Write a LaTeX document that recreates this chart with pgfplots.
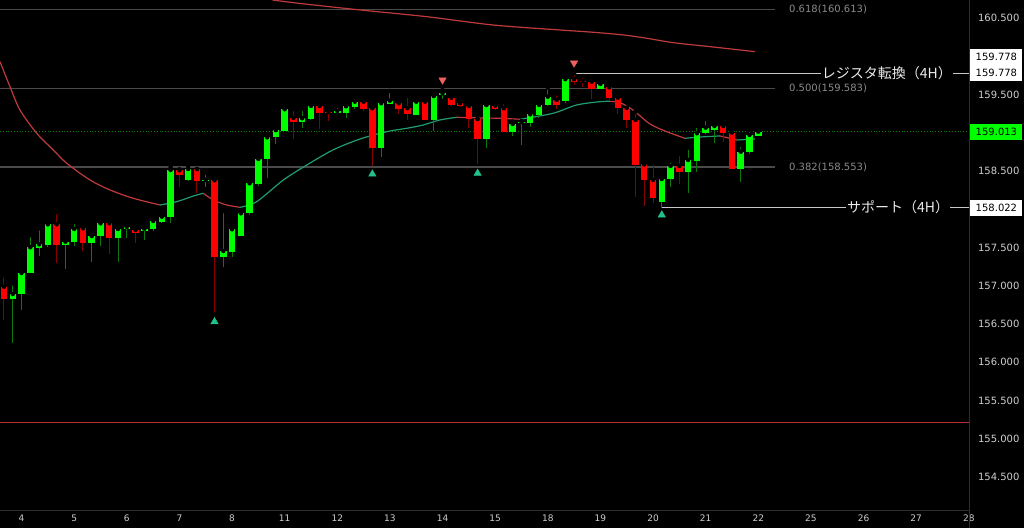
\documentclass[border=0pt]{standalone}
\usepackage{fontspec}
\setmainfont{DejaVu Sans}
\newfontfamily\jp{Noto Sans CJK JP}
\usepackage{pgfplots}
\usepackage{pgfplotstable}
\pgfplotsset{compat=1.18}
\definecolor{bull}{HTML}{00FF00}
\definecolor{bear}{HTML}{FF0000}
\definecolor{bullwick}{HTML}{0B7A0B}
\definecolor{bearwick}{HTML}{860000}
\definecolor{magreen}{HTML}{1E9E6E}
\definecolor{mared}{HTML}{C0393B}
\definecolor{fibgray}{HTML}{4A4A4A}
\definecolor{fibtext}{HTML}{8A8A8A}
\definecolor{ticktext}{HTML}{CFCFCF}
\definecolor{sep}{HTML}{2E2E2E}
\definecolor{uptri}{HTML}{22C08C}
\definecolor{dntri}{HTML}{F06060}
\definecolor{hline}{HTML}{B83232}
\definecolor{dotgreen}{HTML}{0A7A0A}
\definecolor{resline}{HTML}{C8C8C8}

\pgfplotstableread{
i o h l c
1 156.823 157.032 156.248 156.892
2 156.888 157.228 156.683 157.167
3 157.163 157.663 157.163 157.503
4 157.497 157.751 157.389 157.542
5 157.533 157.846 157.503 157.803
7 157.529 157.633 157.219 157.576
8 157.572 157.833 157.524 157.742
10 157.555 157.703 157.310 157.650
11 157.654 157.873 157.520 157.816
13 157.620 157.755 157.314 157.742
14 157.738 157.820 157.620 157.768
16 157.720 157.755 157.598 157.746
17 157.738 157.895 157.716 157.846
18 157.837 157.934 157.824 157.903
19 157.895 158.548 157.824 158.513
21 158.386 158.565 158.373 158.526
23 158.373 158.478 158.287 158.385
25 157.380 157.977 157.249 157.454
26 157.445 157.772 157.380 157.738
27 157.654 157.964 157.650 157.947
28 157.947 158.356 157.925 158.339
29 158.330 158.679 158.308 158.657
30 158.657 158.948 158.405 158.940
31 158.940 159.036 158.853 159.036
32 159.027 159.363 159.027 159.307
34 159.141 159.311 159.066 159.189
35 159.180 159.376 159.167 159.350
38 159.262 159.354 159.254 159.284
39 159.254 159.354 159.197 159.346
40 159.333 159.463 159.307 159.406
43 158.797 159.406 158.687 159.385
44 159.376 159.546 159.372 159.419
47 159.232 159.419 159.232 159.406
49 159.167 159.484 159.023 159.480
50 159.490 159.559 159.437 159.516
55 158.914 159.363 158.797 159.363
58 159.014 159.144 158.958 159.114
59 159.127 159.154 158.844 159.140
60 159.124 159.284 159.071 159.241
61 159.232 159.385 159.197 159.363
62 159.363 159.594 159.350 159.471
64 159.419 159.742 159.393 159.699
68 159.568 159.667 159.568 159.637
75 158.099 158.435 158.022 158.395
76 158.395 158.635 158.295 158.565
78 158.491 158.805 158.209 158.644
79 158.631 159.092 158.491 158.993
80 158.993 159.180 158.984 159.066
81 159.036 159.131 158.870 159.088
84 158.522 158.840 158.352 158.752
85 158.744 159.036 158.722 158.971
86 158.962 159.049 158.962 159.013
}\bulltab

\pgfplotstableread{
i o h l c
0 156.988 157.131 156.552 156.823
6 157.803 157.964 157.301 157.529
9 157.751 157.807 157.458 157.555
12 157.816 157.869 157.415 157.620
15 157.729 157.755 157.563 157.690
20 158.509 158.522 158.295 158.452
22 158.526 158.526 158.216 158.369
24 158.378 158.418 156.661 157.380
33 159.193 159.311 158.918 159.141
36 159.350 159.385 159.049 159.262
37 159.275 159.320 159.158 159.262
41 159.406 159.419 159.280 159.311
42 159.320 159.328 158.565 158.797
45 159.385 159.406 159.245 159.311
46 159.320 159.484 159.167 159.245
48 159.406 159.419 159.167 159.167
51 159.458 159.503 159.350 159.363
52 159.385 159.406 159.333 159.350
53 159.350 159.350 159.058 159.176
54 159.180 159.180 158.592 158.914
56 159.354 159.398 159.297 159.311
57 159.320 159.398 159.014 159.014
63 159.428 159.516 159.307 159.363
65 159.699 159.778 159.624 159.667
66 159.676 159.742 159.594 159.662
67 159.667 159.712 159.437 159.568
69 159.594 159.646 159.428 159.458
70 159.458 159.524 159.241 159.327
71 159.327 159.327 159.058 159.167
72 159.167 159.275 158.156 158.578
73 158.588 158.588 158.046 158.382
74 158.382 158.609 158.086 158.151
77 158.565 158.722 158.330 158.491
82 159.088 159.144 158.883 159.001
83 159.001 159.023 158.522 158.522
}\beartab

\begin{document}
\begin{tikzpicture}
\path[use as bounding box, fill=black] (0,0) rectangle (1024pt,528pt);
\begin{axis}[
  at={(0pt,18pt)}, anchor=south west,
  width=969pt, height=510pt, scale only axis,
  xmin=-0.456, xmax=110.03, ymin=154.069, ymax=160.735,
  clip=false,
  axis line style={draw=none},
  major tick style={draw=none},
  /pgf/number format/assume math mode=true,
  xtick={2,8,14,20,26,32,38,44,50,56,62,68,74,80,86,92,98,104,110},
  xticklabels={4,5,6,7,8,11,12,13,14,15,18,19,20,21,22,25,26,27,28},
  x tick label style={font=\fontsize{9}{10}\selectfont, text=ticktext, yshift=-1pt},
  ytick={154.5,155,155.5,156,156.5,157,157.5,158.5,159.5,160.5},
  yticklabel pos=right,
  y tick label style={anchor=west, xshift=5.5pt, font=\fontsize{10}{12}\selectfont, text=ticktext},
  yticklabel={\pgfmathprintnumber[fixed,fixed zerofill,precision=3]{\tick}},
]
% horizontal reference lines
\addplot[fibgray, line width=1.2pt] coordinates {(-0.456,160.613) (87.9,160.613)};
\addplot[fibgray, line width=1.2pt] coordinates {(-0.456,159.583) (87.9,159.583)};
\addplot[fibgray, line width=1.2pt] coordinates {(-0.456,158.553) (87.9,158.553)};
\addplot[hline, line width=1pt] coordinates {(-0.456,155.219) (110.03,155.219)};
\addplot[dotgreen, line width=0.8pt, dotted] coordinates {(-0.456,159.013) (110.03,159.013)};
\addplot[resline, line width=1pt] coordinates {(65,159.778) (110.03,159.778)};
\addplot[resline, line width=1pt] coordinates {(75,158.022) (110.03,158.022)};

% moving averages
\addplot[mared, line width=1.2pt, smooth] coordinates {(30.6,160.735) (33.75,160.690) (40.59,160.605) (48.2,160.517) (55.79,160.408) (63.4,160.343) (67.2,160.313) (70.62,160.278) (73.28,160.235) (76.32,160.177) (80.5,160.125) (85.63,160.060)};
\addplot[mared, line width=1.2pt, smooth] coordinates {(-0.456,159.929) (0.684,159.602) (1.824,159.297) (3.729,158.993) (5.62,158.775) (7.15,158.601) (9.81,158.382) (12.09,158.252) (14.74,158.143) (17.79,158.056)};
\addplot[magreen, line width=1.2pt, smooth] coordinates {(17.79,158.056) (19.69,158.099) (21.59,158.173) (22.73,158.209)};
\addplot[mared, line width=1.2pt, smooth] coordinates {(22.73,158.209) (23.87,158.121) (25.39,158.056) (26.91,158.025)};
\addplot[magreen, line width=1.2pt, smooth] coordinates {(26.91,158.025) (28.81,158.099) (31.85,158.382) (34.52,158.578) (37.51,158.775) (40.59,158.918) (43.64,159.014) (45.92,159.058) (47.78,159.101) (49.71,159.167) (51.62,159.202)};
\addplot[mared, line width=1.2pt, smooth] coordinates {(51.62,159.202) (54.28,159.193) (56.56,159.189) (58.84,159.176)};
\addplot[magreen, line width=1.2pt, smooth] coordinates {(58.84,159.176) (62.6,159.254) (65.3,159.363) (67.97,159.406) (69.1,159.41)};
\addplot[mared, line width=1.2pt, smooth] coordinates {(69.1,159.41) (70.24,159.393) (71.72,159.297) (73.66,159.114) (75.56,159.014) (77.65,158.927)};
\addplot[magreen, line width=1.2pt, smooth] coordinates {(77.65,158.927) (79.36,158.944) (81.64,158.958)};
\addplot[mared, line width=1.2pt, smooth] coordinates {(81.64,158.958) (83.55,158.905)};
\addplot[magreen, line width=1.2pt, smooth] coordinates {(83.55,158.905) (85.63,158.918)};

% wicks
\addplot[only marks, mark=none, error bars/.cd, y dir=minus, y explicit, error mark=none,
  error bar style={line width=1pt, draw=bullwick}]
  table[x=i, y=h, y error minus expr=\thisrow{h}-\thisrow{l}] {\bulltab};
\addplot[only marks, mark=none, error bars/.cd, y dir=minus, y explicit, error mark=none,
  error bar style={line width=1pt, draw=bearwick}]
  table[x=i, y=h, y error minus expr=\thisrow{h}-\thisrow{l}] {\beartab};
% bodies
\addplot[only marks, mark=none, error bars/.cd, y dir=minus, y explicit, error mark=none,
  error bar style={line width=6.5pt, draw=bull}]
  table[x=i, y=c, y error minus expr=\thisrow{c}-\thisrow{o}] {\bulltab};
\addplot[only marks, mark=none, error bars/.cd, y dir=minus, y explicit, error mark=none,
  error bar style={line width=6.5pt, draw=bear}]
  table[x=i, y=o, y error minus expr=\thisrow{o}-\thisrow{c}] {\beartab};

% pivot markers
\addplot[only marks, mark=triangle*, mark size=4.3pt, mark options={draw=uptri, fill=uptri}] coordinates {(24,156.53) (42,158.46) (54,158.47) (75,157.925)};
\addplot[only marks, mark=triangle*, mark size=4.3pt, mark options={rotate=180, draw=dntri, fill=dntri}] coordinates {(50,159.69) (65,159.912)};

% labels
\node[anchor=west, text=fibtext, font=\fontsize{10}{12}\selectfont, inner sep=0pt] at (axis cs:89.5,160.613) {0.618(160.613)};
\node[anchor=west, text=fibtext, font=\fontsize{10}{12}\selectfont, inner sep=0pt] at (axis cs:89.5,159.583) {0.500(159.583)};
\node[anchor=west, text=fibtext, font=\fontsize{10}{12}\selectfont, inner sep=0pt] at (axis cs:89.5,158.553) {0.382(158.553)};
\node[anchor=east, fill=black, text=white!92!black, font=\jp\fontsize{14}{16}\selectfont, inner sep=1pt] at (axis cs:108.2,159.778) {レジスタ転換（4H）};
\node[anchor=east, fill=black, text=white!92!black, font=\jp\fontsize{14}{16}\selectfont, inner sep=1pt] at (axis cs:107.9,158.022) {サポート（4H）};

% price boxes
\node[anchor=west, xshift=1.2pt, fill=white, text=black, minimum width=52pt, minimum height=16pt, inner sep=0pt, font=\fontsize{10}{12}\selectfont] at (axis cs:110.03,159.990) {159.778};
\node[anchor=west, xshift=1.2pt, fill=white, text=black, minimum width=52pt, minimum height=16pt, inner sep=0pt, font=\fontsize{10}{12}\selectfont] at (axis cs:110.03,159.778) {159.778};
\node[anchor=west, xshift=1.2pt, fill=bull, text=black, minimum width=52pt, minimum height=16pt, inner sep=0pt, font=\fontsize{10}{12}\selectfont] at (axis cs:110.03,159.013) {159.013};
\node[anchor=west, xshift=1.2pt, fill=white, text=black, minimum width=52pt, minimum height=16pt, inner sep=0pt, font=\fontsize{10}{12}\selectfont] at (axis cs:110.03,158.022) {158.022};
\end{axis}
\draw[sep, line width=1pt] (969.5pt,0pt) -- (969.5pt,528pt);
\draw[sep, line width=1pt] (0pt,18pt) -- (969.5pt,18pt);
\end{tikzpicture}
\end{document}
